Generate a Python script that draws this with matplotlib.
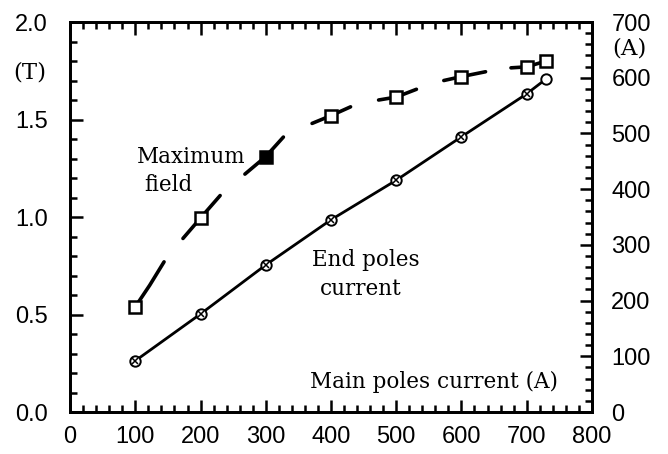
import numpy as np
import matplotlib.pyplot as plt
from matplotlib.ticker import MultipleLocator

# main poles current (A) where markers sit
main_current = [100, 200, 300, 400, 500, 600, 700, 730]
# maximum field (T), left axis
max_field = [0.54, 0.995, 1.31, 1.52, 1.615, 1.72, 1.77, 1.80]
field_filled = [False, False, True, False, False, False, False, False]
# end poles current (A), right axis
end_current = [92, 176, 264, 345, 416, 494, 571, 598]

# the max field curve is drawn as broken pieces around each marker
field_pieces_x = [
    [100, 122, 144],
    [173, 200, 230],
    [268, 300, 327],
    [371, 400, 430],
    [473, 500, 531],
    [573, 600, 637],
    [676, 700, 730, 738],
]
field_pieces_y = [
    [0.54, 0.65, 0.77],
    [0.89, 0.995, 1.11],
    [1.22, 1.31, 1.41],
    [1.48, 1.52, 1.565],
    [1.60, 1.615, 1.655],
    [1.70, 1.72, 1.745],
    [1.765, 1.77, 1.80, 1.805],
]

tick_font = 'Liberation Sans'
label_font = 'DejaVu Serif'
tick_size = 17
label_size = 15.5

fig = plt.figure(figsize=(6.68, 4.54), dpi=100)
ax = fig.add_axes([0.105, 0.0925, 0.781, 0.859])
ax2 = ax.twinx()

for px, py in zip(field_pieces_x, field_pieces_y):
    ax.plot(px, py, color='black', lw=2.6, solid_capstyle='round')
for xv, yv, f in zip(main_current, max_field, field_filled):
    ax.plot(xv, yv, marker='s', ms=8, mew=1.8, mec='black',
            mfc='black' if f else 'white', zorder=5)

ax2.plot(main_current, end_current, color='black', lw=2.0)
ax2.plot(main_current, end_current, ls='none', marker='o', ms=7.5, mew=1.4,
         mec='black', mfc='white', zorder=5)
ax2.plot(main_current[:-1], end_current[:-1], ls='none', marker='x', ms=5,
         mew=1.1, color='black', zorder=6)

ax.set_xlim(0, 800)
ax.set_ylim(0, 2.0)
ax2.set_ylim(0, 700)

ax.xaxis.set_major_locator(MultipleLocator(100))
ax.xaxis.set_minor_locator(MultipleLocator(20))
ax.yaxis.set_major_locator(MultipleLocator(0.5))
ax.yaxis.set_minor_locator(MultipleLocator(0.1))
ax2.yaxis.set_major_locator(MultipleLocator(100))
ax2.yaxis.set_minor_locator(MultipleLocator(20))

ax.tick_params(axis='x', which='both', direction='in', top=True, bottom=True,
               width=1.8, pad=10)
ax.tick_params(axis='y', which='both', direction='in', left=True, right=False,
               width=1.8, pad=16)
ax2.tick_params(axis='y', which='both', direction='in', right=True, left=False,
                width=1.8, pad=14)
for a in (ax, ax2):
    a.tick_params(which='major', length=9)
    a.tick_params(which='minor', length=5)
    for sp in a.spines.values():
        sp.set_linewidth(2.0)

ax.set_xticklabels([f'{v:g}' for v in ax.get_xticks()], fontsize=tick_size, family=tick_font)
ax.set_yticklabels([f'{v:.1f}' for v in ax.get_yticks()], fontsize=tick_size, family=tick_font)
ax2.set_yticklabels([f'{v:g}' for v in ax2.get_yticks()], fontsize=tick_size, family=tick_font)

# unit labels next to the top tick labels
fig.text(0.044, 0.84, '(T)', fontsize=16.5, family=label_font, ha='center', va='center')
fig.text(0.942, 0.894, '(A)', fontsize=16.5, family=label_font, ha='center', va='center')

ax.text(102, 1.31, 'Maximum', fontsize=label_size, family=label_font, ha='left', va='center')
ax.text(113, 1.165, 'field', fontsize=label_size, family=label_font, ha='left', va='center')
ax.text(454, 0.78, 'End poles', fontsize=label_size, family=label_font, ha='center', va='center')
ax.text(446, 0.63, 'current', fontsize=label_size, family=label_font, ha='center', va='center')
ax.text(558, 0.154, 'Main poles current (A)', fontsize=label_size, family=label_font,
        ha='center', va='center')

fig.savefig('out.png', dpi=100)
